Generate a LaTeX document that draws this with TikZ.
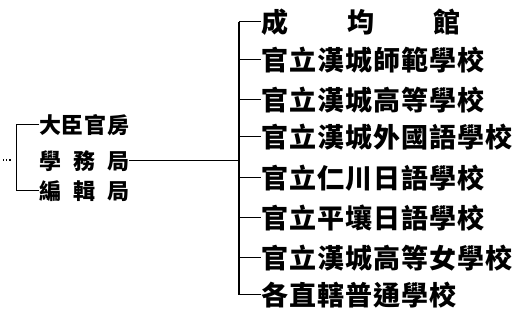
\documentclass[tikz,border=0pt]{standalone}
\usepackage{fontspec}
\newfontfamily\cjk[LetterSpace=4]{Noto Sans CJK TC}
\newfontfamily\cjkleft{Noto Sans CJK TC}

\begin{document}
\begin{tikzpicture}[x=1pt, y=-1pt]
\tikzstyle{school} = [anchor = west, inner sep = 0pt, font = \cjk\fontsize{27}{27}\selectfont\bfseries]
\tikzstyle{office} = [anchor = west, inner sep = 0pt, font = \cjkleft\fontsize{22}{22}\selectfont\bfseries]
\tikzstyle{edge} = [line width = 1pt]
\tikzstyle{trunk} = [line width = 1.4pt]
\useasboundingbox (0, 0) rectangle (530, 320);
% left bracket
\node[office] (dachen) at (39, 125) {\makebox[90pt][s]{大\hfill 臣\hfill 官\hfill 房}};
\node[office] (xuewu) at (39, 161) {\makebox[90pt][s]{學\hfill 務\hfill 局}};
\node[office] (bianji) at (39, 191) {\makebox[90pt][s]{編\hfill 輯\hfill 局}};
\coordinate (dots) at (3, 160);
\coordinate (brace) at (16, 160);
\draw[edge] (dachen.west) -- (brace |- dachen.west) -- (brace |- bianji.west) -- (bianji.west);
\draw[dotted, line width = 1.2pt] (dots) -- ++(8, 0);
% schools
\node[school] (chengjun) at (261, 22) {\makebox[199pt][s]{成\hfill 均\hfill 館}};
\node[school] (shifan) at (261, 60) {官立漢城師範學校};
\node[school] (gaodeng) at (261, 100) {官立漢城高等學校};
\node[school] (waiguo) at (261, 137) {官立漢城外國語學校};
\node[school] (renchuan) at (261, 178) {官立仁川日語學校};
\node[school] (pingrang) at (261, 218) {官立平壤日語學校};
\node[school] (nvxue) at (261, 258) {官立漢城高等女學校};
\node[school] (putong) at (261, 295) {各直轄普通學校};
\coordinate (root) at (239, 161);
\draw[edge] (xuewu.east) -- (root);
\draw[trunk] (root |- chengjun.west) -- (root |- putong.west);
\draw[edge] (root |- chengjun.west) -- (chengjun.west);
\draw[edge] (root |- shifan.west) -- (shifan.west);
\draw[edge] (root |- gaodeng.west) -- (gaodeng.west);
\draw[edge] (root |- waiguo.west) -- (waiguo.west);
\draw[edge] (root |- renchuan.west) -- (renchuan.west);
\draw[edge] (root |- pingrang.west) -- (pingrang.west);
\draw[edge] (root |- nvxue.west) -- (nvxue.west);
\draw[edge] (root |- putong.west) -- (putong.west);
\end{tikzpicture}
\end{document}
